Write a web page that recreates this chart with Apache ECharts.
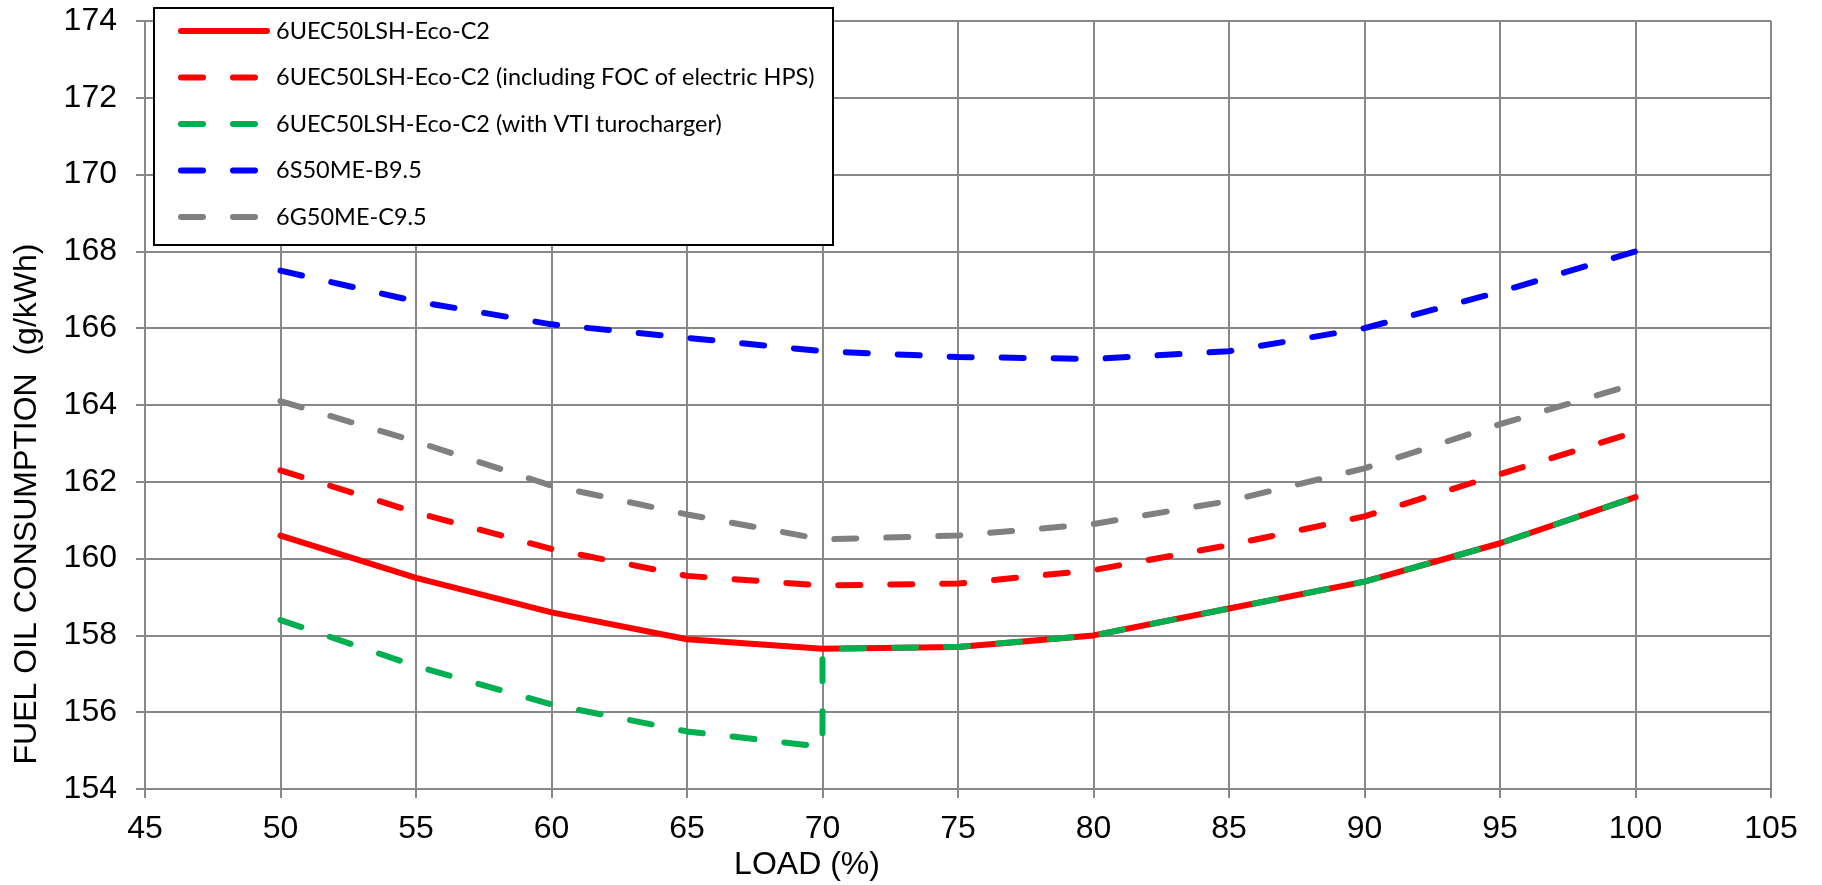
<!DOCTYPE html>
<html>
<head>
<meta charset="utf-8">
<script src="https://cdn.jsdelivr.net/npm/echarts@6/dist/echarts.min.js"></script>
<style>
    html, body { margin: 0; padding: 0; background: #fff; }
    #chart { width: 1822px; height: 885px; }
</style>
</head>
<body>
<div id="chart"></div>
<script>
// load (%) on the x axis
const loads = [50, 55, 60, 65, 70, 75, 80, 85, 90, 95, 100]
// VTI series has a step at 70 %, so it keeps its own x list
const vtiLoads = [50, 55, 60, 65, 70, 70, 75, 80, 85, 90, 95, 100]

// fuel oil consumption (g/kWh)
const ecoC2 = [160.6, 159.5, 158.6, 157.9, 157.65, 157.7, 158.0, 158.7, 159.4, 160.4, 161.6]
const ecoC2Hps = [162.3, 161.2, 160.25, 159.55, 159.3, 159.35, 159.7, 160.35, 161.1, 162.2, 163.3]
const ecoC2Vti = [158.4, 157.2, 156.2, 155.5, 155.1, 157.65, 157.7, 158.0, 158.7, 159.4, 160.4, 161.6]
const s50me = [167.5, 166.7, 166.1, 165.75, 165.4, 165.25, 165.2, 165.4, 166.0, 166.95, 168.0]
const g50me = [164.1, 163.05, 161.9, 161.15, 160.5, 160.6, 160.9, 161.5, 162.35, 163.5, 164.55]

const names = [
    '6UEC50LSH-Eco-C2',
    '6UEC50LSH-Eco-C2 (including FOC of electric HPS)',
    '6UEC50LSH-Eco-C2 (with VTI turocharger)',
    '6S50ME-B9.5',
    '6G50ME-C9.5'
]

const pairs = (xs, ys) => xs.map((x, i) => [x, ys[i]])

const gridColor = '#888888'
const axisFont = '"Liberation Sans", Arial, sans-serif'
const dash = [22, 30]

function lineSeries (name, data, color, dashed) {
    return {
        name: name,
        type: 'line',
        data: data,
        symbol: 'none',
        smooth: false,
        animation: false,
        lineStyle: {
            color: color,
            width: 6,
            type: dashed ? dash : 'solid',
            cap: 'round',
            join: 'round'
        },
        itemStyle: { color: color }
    }
}

const chart = echarts.init(document.getElementById('chart'))

const option = {
    animation: false,
    backgroundColor: '#fff',
    grid: { left: 145, right: 51, top: 21, bottom: 96 },
    xAxis: {
        type: 'value',
        min: 45,
        max: 105,
        interval: 5,
        axisLine: { show: true, lineStyle: { color: gridColor, width: 2 } },
        axisTick: { show: true, length: 9, lineStyle: { color: gridColor, width: 2 } },
        axisLabel: { color: '#000', fontFamily: axisFont, fontSize: 32, margin: 24 },
        splitLine: { show: true, lineStyle: { color: gridColor, width: 2 } }
    },
    yAxis: {
        type: 'value',
        min: 154,
        max: 174,
        interval: 2,
        axisLine: { show: true, lineStyle: { color: gridColor, width: 2 } },
        axisTick: { show: true, length: 9, lineStyle: { color: gridColor, width: 2 } },
        axisLabel: { color: '#000', fontFamily: axisFont, fontSize: 32, margin: 28 },
        splitLine: { show: true, lineStyle: { color: gridColor, width: 2 } }
    },
    legend: {
        orient: 'vertical',
        left: 178,
        top: 19,
        padding: 0,
        itemWidth: 86,
        itemHeight: 24,
        itemGap: 22.5,
        z: 10,
        data: names,
        itemStyle: { opacity: 0 },
        lineStyle: { width: 6, cap: 'round' },
        textStyle: { color: '#000', fontFamily: 'Lato, sans-serif', fontSize: 23.5, padding: [0, 0, 0, 4] }
    },
    graphic: [
        {
            type: 'rect',
            z: 5,
            shape: { x: 154, y: 8, width: 679, height: 237 },
            style: { fill: '#fff', stroke: '#000', lineWidth: 2 }
        },
        {
            type: 'text',
            x: 27,
            y: 504,
            rotation: Math.PI / 2,
            style: {
                text: 'FUEL OIL CONSUMPTION  (g/kWh)',
                font: '32px ' + axisFont,
                fill: '#000',
                align: 'center',
                verticalAlign: 'middle'
            }
        },
        {
            type: 'text',
            x: 807,
            y: 865,
            style: {
                text: 'LOAD (%)',
                font: '32px ' + axisFont,
                fill: '#000',
                align: 'center',
                verticalAlign: 'middle'
            }
        }
    ],
    series: [
        lineSeries(names[0], pairs(loads, ecoC2), '#ff0000', false),
        lineSeries(names[1], pairs(loads, ecoC2Hps), '#ff0000', true),
        lineSeries(names[2], pairs(vtiLoads, ecoC2Vti), '#00b050', true),
        lineSeries(names[3], pairs(loads, s50me), '#0000ff', true),
        lineSeries(names[4], pairs(loads, g50me), '#808080', true)
    ]
}

chart.setOption(option)
</script>
</body>
</html>
